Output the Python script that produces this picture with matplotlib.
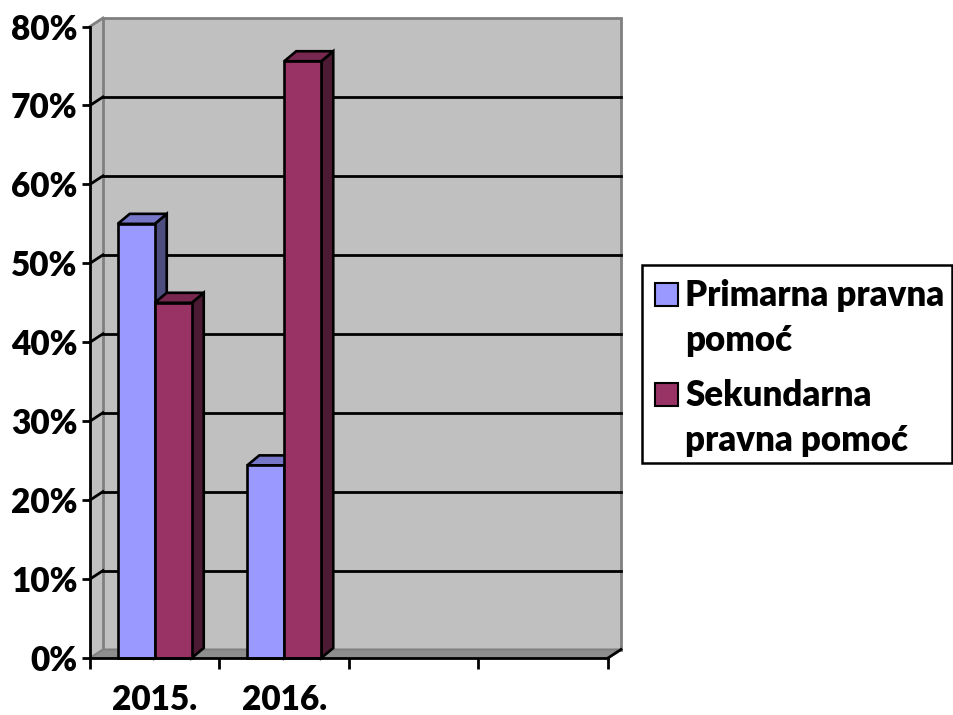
import matplotlib
matplotlib.use("Agg")
import matplotlib.pyplot as plt
from matplotlib.patches import Polygon, Rectangle
from matplotlib.ticker import FixedLocator, FuncFormatter

# ---------------- data ----------------
categories = ["2015.", "2016."]
series_names = ["Primarna pravna\npomoć", "Sekundarna\npravna pomoć"]
primarna = [0.55, 0.244]
sekundarna = [0.45, 0.756]
y_ticks = [0.0, 0.1, 0.2, 0.3, 0.4, 0.5, 0.6, 0.7, 0.8]

# ---------------- style ----------------
FONT = "Lato"
WEIGHT = 800
W, H = 954, 715
front_cols = ["#9999FF", "#993366"]
top_cols = ["#7777C9", "#782850"]
side_cols = ["#4D4D80", "#4D1A33"]
wall_col = "#C0C0C0"
floor_col = "#8E8E8E"
border_col = "#808080"

n_slots = 4
ymax = 0.8

fig = plt.figure(figsize=(W / 100, H / 100), dpi=100)
ax_left, ax_right, ax_bottom, ax_top = 90, 608, 658, 26.5
ax = fig.add_axes([ax_left / W, (H - ax_bottom) / H,
                   (ax_right - ax_left) / W, (ax_bottom - ax_top) / H])
ax.set_xlim(0, n_slots)
ax.set_ylim(0, ymax)
ax.patch.set_visible(False)

px_x = (ax_right - ax_left) / n_slots
px_y = (ax_bottom - ax_top) / ymax
# depth offsets (pixel -> data)
wdx, wdy = 13 / px_x, 8.5 / px_y
bdx, bdy = 12 / px_x, 10 / px_y

# left side wall
ax.add_patch(Polygon([(0, 0), (0, ymax), (wdx, ymax + wdy), (wdx, wdy)],
                     closed=True, facecolor=wall_col, edgecolor="none",
                     clip_on=False, zorder=0))
# back wall
ax.add_patch(Rectangle((wdx, wdy), n_slots, ymax, facecolor=wall_col,
                       edgecolor=border_col, linewidth=2, clip_on=False, zorder=0))
ax.plot([0, wdx], [ymax, ymax + wdy], color=border_col, lw=2, clip_on=False, zorder=1)
# floor
ax.add_patch(Polygon([(0, 0), (n_slots, 0), (n_slots + wdx, wdy), (wdx, wdy)],
                     closed=True, facecolor=floor_col, edgecolor=border_col,
                     linewidth=1.5, clip_on=False, zorder=1))
ax.plot([n_slots, n_slots + wdx], [0, wdy], color="black", lw=2, clip_on=False, zorder=1)

# gridlines on back wall + side wall
for v in y_ticks[1:-1]:
    ax.plot([wdx, n_slots + wdx], [v + wdy, v + wdy], color="black", lw=2,
            clip_on=False, zorder=1)
    ax.plot([0, wdx], [v, v + wdy], color="black", lw=2, clip_on=False, zorder=1)

# bars
bw = 37 / px_x
series = [primarna, sekundarna]
for i in range(len(categories)):
    for j, vals in enumerate(series):
        v = vals[i]
        x0 = i + 0.5 + (j - 1) * bw
        x1 = x0 + bw
        kw = dict(closed=True, edgecolor="black", linewidth=1.9,
                  joinstyle="miter", clip_on=False, zorder=3 + j)
        ax.add_patch(Polygon([(x1, 0), (x1, v), (x1 + bdx, v + bdy), (x1 + bdx, bdy)],
                             facecolor=side_cols[j], **kw))
        ax.add_patch(Polygon([(x0, v), (x1, v), (x1 + bdx, v + bdy), (x0 + bdx, v + bdy)],
                             facecolor=top_cols[j], **kw))
        ax.add_patch(Polygon([(x0, 0), (x1, 0), (x1, v), (x0, v)],
                             facecolor=front_cols[j], **kw))

# spines / axes
for s in ["top", "right"]:
    ax.spines[s].set_visible(False)
for s in ["left", "bottom"]:
    ax.spines[s].set_linewidth(2)
    ax.spines[s].set_color("black")
    ax.spines[s].set_zorder(6)

ax.yaxis.set_major_locator(FixedLocator(y_ticks))
ax.yaxis.set_major_formatter(FuncFormatter(lambda v, p: f"{v * 100:.0f}%"))
ax.tick_params(axis="y", direction="out", length=6, width=2, pad=3,
               labelsize=24)
ax.xaxis.set_major_locator(FixedLocator(range(n_slots + 1)))
ax.xaxis.set_major_formatter(FuncFormatter(lambda v, p: ""))
ax.xaxis.set_minor_locator(FixedLocator([i + 0.5 for i in range(len(categories))]))
ax.set_xticklabels(categories, minor=True)
ax.tick_params(axis="x", which="major", direction="out", length=8, width=2)
ax.tick_params(axis="x", which="minor", length=0, pad=19, labelsize=24)
for lab in ax.get_yticklabels() + ax.get_xticklabels(minor=True):
    lab.set_fontfamily(FONT)
    lab.set_fontweight(WEIGHT)

# legend (manual, to match layout)
def fx(px):
    return px / W

def fy(py):
    return (H - py) / H

fig.patches.append(Rectangle((fx(642), fy(463)), fx(952) - fx(642), fy(265) - fy(463),
                             transform=fig.transFigure, facecolor="white",
                             edgecolor="black", linewidth=1.8))
leg_rows = [283, 383]
for j, name in enumerate(series_names):
    top = leg_rows[j]
    fig.patches.append(Rectangle((fx(655), fy(top + 23)), fx(678) - fx(655),
                                 fy(top) - fy(top + 23), transform=fig.transFigure,
                                 facecolor=front_cols[j], edgecolor="black",
                                 linewidth=1.5))
    fig.text(fx(685), fy(top - 4), name, family=FONT, weight=WEIGHT, fontsize=25,
             ha="left", va="top", linespacing=1.45)

fig.savefig("out.png", dpi=100)
